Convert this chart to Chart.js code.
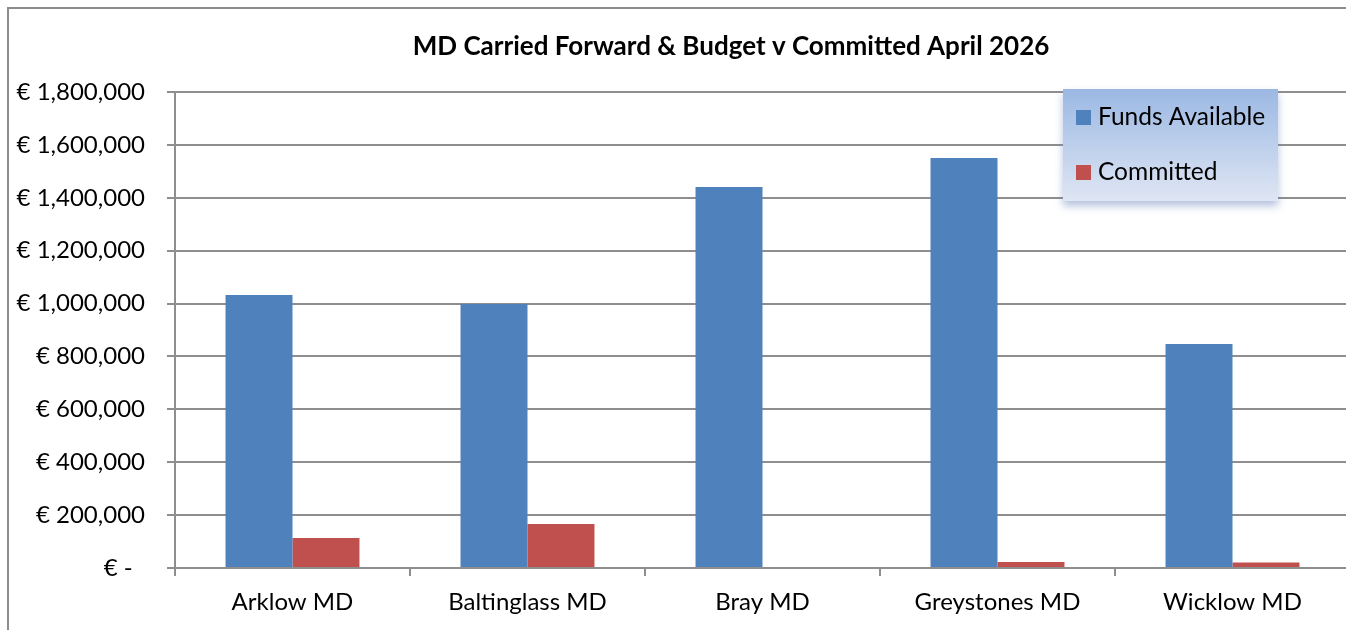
<!DOCTYPE html>
<html><head><meta charset="utf-8">
<script src="https://cdn.jsdelivr.net/npm/chart.js@4"></script>
<style>
html,body{margin:0;padding:0;overflow:hidden;background:#fff;width:1346px;height:630px}
#wrap{position:absolute;left:0;top:0;width:1352px;height:630px}
#frame{position:absolute;left:7px;top:7px;width:1400px;height:700px;border-left:2px solid #8c8c8c;border-top:2px solid #8c8c8c;pointer-events:none}
</style></head><body>
<div id="wrap"><canvas id="c" width="1352" height="630"></canvas></div>
<div id="frame"></div>
<script>
const chartTitle = 'MD Carried Forward & Budget v Committed April 2026';
const categories = ['Arklow MD', 'Baltinglass MD', 'Bray MD', 'Greystones MD', 'Wicklow MD'];
const seriesNames = ['Funds Available', 'Committed'];
const fundsAvailable = [1032000, 998000, 1441000, 1550000, 847000];
const committed = [113000, 166000, 0, 23000, 21000];
const yMin = 0, yMax = 1800000, yStep = 200000;

const FONT = 'Lato';
const BLUE = '#4f81bd', RED = '#c0504d', GRID = '#8e8e8e';

function fmtEuro(v) {
  if (v === 0) return '€ -  ';
  return '€ ' + v.toLocaleString('en-US');
}

const titlePlugin = {
  id: 'xlTitle',
  afterDraw(chart) {
    const ctx = chart.ctx;
    ctx.save();
    ctx.font = 'bold 26px ' + FONT;
    ctx.fillStyle = '#000';
    ctx.textAlign = 'center';
    ctx.textBaseline = 'alphabetic';
    ctx.fillText(chartTitle, 731, 55);
    ctx.restore();
  }
};

const legendPlugin = {
  id: 'xlLegend',
  afterDraw(chart) {
    const ctx = chart.ctx;
    const x = 1063, y = 89, w = 215, h = 112;
    ctx.save();
    ctx.shadowColor = 'rgba(90,120,180,0.45)';
    ctx.shadowBlur = 8;
    ctx.shadowOffsetY = 5;
    const g = ctx.createLinearGradient(0, y, 0, y + h);
    g.addColorStop(0, '#9bb8e3');
    g.addColorStop(1, '#dfe6f4');
    ctx.fillStyle = g;
    ctx.fillRect(x, y, w, h);
    ctx.restore();
    ctx.save();
    ctx.font = '24.5px ' + FONT;
    ctx.textBaseline = 'middle';
    ctx.textAlign = 'left';
    const ys = [117, 172];
    chart.data.datasets.forEach((ds, i) => {
      ctx.fillStyle = ds.backgroundColor;
      ctx.fillRect(1076, ys[i] - 7, 15, 15);
      ctx.fillStyle = '#000';
      ctx.fillText(ds.label, 1098, ys[i]);
    });
    ctx.restore();
  }
};

new Chart(document.getElementById('c'), {
  type: 'bar',
  data: {
    labels: categories,
    datasets: [
      { label: seriesNames[0], data: fundsAvailable, backgroundColor: BLUE, borderWidth: 0 },
      { label: seriesNames[1], data: committed, backgroundColor: RED, borderWidth: 0 }
    ]
  },
  options: {
    responsive: false,
    animation: false,
    devicePixelRatio: 1,
    layout: { padding: { top: 92, left: 0, right: 2, bottom: 0 } },
    datasets: { bar: { categoryPercentage: 0.57, barPercentage: 1.0 } },
    plugins: { legend: { display: false }, title: { display: false }, tooltip: { enabled: false } },
    scales: {
      x: {
        offset: true,
        grid: { offset: true, drawOnChartArea: false, drawTicks: true, tickLength: 8, color: GRID, lineWidth: 2 },
        border: { color: GRID, width: 2 },
        ticks: { color: '#000', font: { family: FONT, size: 24 }, padding: 12, maxRotation: 0 },
        afterFit(s) { s.height = 62; }
      },
      y: {
        min: yMin, max: yMax,
        ticks: { stepSize: yStep, color: '#000', font: { family: FONT, size: 24 }, padding: 22, callback: (v) => fmtEuro(v) },
        grid: { color: GRID, lineWidth: 2, tickLength: 8 },
        border: { color: GRID, width: 2 },
        afterFit(s) { s.width = 175; }
      }
    }
  },
  plugins: [titlePlugin, legendPlugin]
});
</script>
</body></html>
